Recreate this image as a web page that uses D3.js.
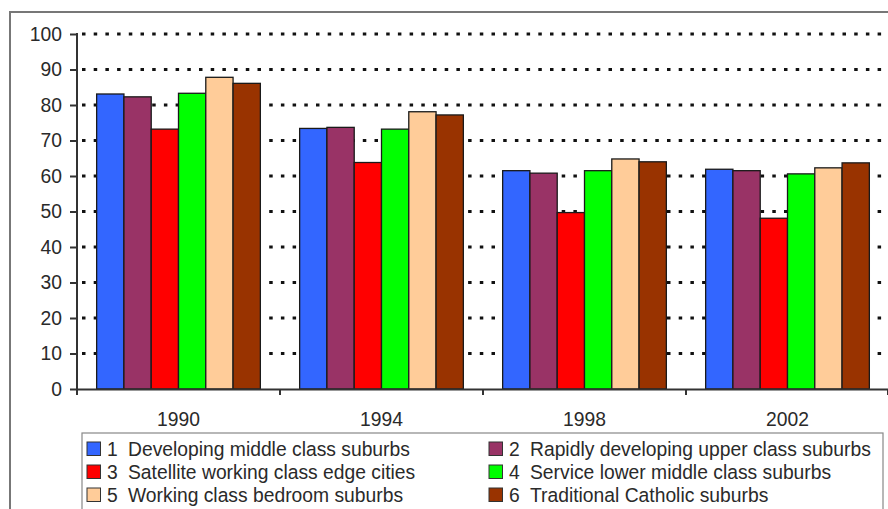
<!DOCTYPE html>
<html>
<head>
<meta charset="utf-8">
<script src="https://cdn.jsdelivr.net/npm/d3@7.9.0/dist/d3.min.js"></script>
<style>
  body { margin: 0; background: #fff; }
  svg { display: block; }
  svg text { font-family: "Liberation Sans", Arial, sans-serif; }
</style>
</head>
<body>
<svg width="888" height="509"></svg>
<script>
const years = ['1990', '1994', '1998', '2002'];
const seriesNames = [
  'Developing middle class suburbs',
  'Rapidly developing upper class suburbs',
  'Satellite working class edge cities',
  'Service lower middle class suburbs',
  'Working class bedroom suburbs',
  'Traditional Catholic suburbs'
];
const colors = ['#3366ff', '#993366', '#ff0000', '#00ff00', '#ffcc99', '#993300'];
// values per series, one per year
const s1 = [83.1, 73.4, 61.5, 61.9];
const s2 = [82.3, 73.7, 60.8, 61.5];
const s3 = [73.2, 63.8, 49.7, 48.1];
const s4 = [83.3, 73.2, 61.5, 60.6];
const s5 = [87.8, 78.1, 64.8, 62.3];
const s6 = [86.1, 77.2, 64.0, 63.7];
const yTicks = [0, 10, 20, 30, 40, 50, 60, 70, 80, 90, 100];

const seriesValues = [s1, s2, s3, s4, s5, s6];
const svg = d3.select('svg');
const fs = 19.3;
const ink = '#2a2a2a';

// outer frame (runs off the right and bottom)
svg.append('rect')
  .attr('x', 10).attr('y', 12)
  .attr('width', 900).attr('height', 520)
  .attr('fill', '#fff')
  .attr('stroke', '#777').attr('stroke-width', 2);

const y = d3.scaleLinear().domain([0, 100]).range([389, 34]);
const x0 = d3.scaleBand().domain(years).range([77, 889]);
const x1 = d3.scaleBand().domain(d3.range(6)).range([0, x0.bandwidth()]).paddingOuter(0.72);

// dotted grid
svg.append('g').selectAll('line')
  .data(yTicks.filter(d => d > 0))
  .join('line')
  .attr('x1', 82).attr('x2', 889)
  .attr('y1', d => y(d)).attr('y2', d => y(d))
  .attr('stroke', '#111')
  .attr('stroke-width', 3)
  .attr('stroke-dasharray', '3.5 8.2');

// bars
const groups = svg.append('g').selectAll('g')
  .data(years)
  .join('g')
  .attr('transform', d => `translate(${x0(d)},0)`);

groups.selectAll('rect')
  .data((yr, i) => seriesValues.map((vals, s) => ({ s, v: vals[i] })))
  .join('rect')
  .attr('x', d => x1(d.s))
  .attr('y', d => y(d.v))
  .attr('width', x1.bandwidth())
  .attr('height', d => y(0) - y(d.v))
  .attr('fill', d => colors[d.s])
  .attr('stroke', '#1a1a1a')
  .attr('stroke-width', 1.3);

// y axis
const yAxis = svg.append('g')
  .attr('transform', 'translate(77,0)')
  .call(d3.axisLeft(y).tickValues(yTicks).tickSize(7).tickPadding(8));
yAxis.select('.domain').remove();
yAxis.selectAll('line').attr('stroke', '#333').attr('stroke-width', 2);
yAxis.selectAll('text').attr('font-size', fs).attr('fill', ink)
  .attr('font-family', '"Liberation Sans", Arial, sans-serif');
svg.append('line')
  .attr('x1', 77).attr('x2', 77).attr('y1', y(100) - 1).attr('y2', y(0) + 6)
  .attr('stroke', '#333').attr('stroke-width', 2);

// x axis
const xAxis = svg.append('g')
  .attr('transform', `translate(0,${y(0)})`)
  .call(d3.axisBottom(x0).tickSize(0).tickPadding(23));
xAxis.select('.domain').attr('stroke', '#333').attr('stroke-width', 2);
xAxis.selectAll('text').attr('font-size', fs).attr('fill', ink)
  .attr('font-family', '"Liberation Sans", Arial, sans-serif');
svg.append('g').selectAll('line')
  .data(years.slice(1).map(d => x0(d)).concat([x0.range()[1] - 1]))
  .join('line')
  .attr('x1', d => d).attr('x2', d => d)
  .attr('y1', y(0)).attr('y2', y(0) + 6)
  .attr('stroke', '#333').attr('stroke-width', 2);

// legend
const legend = svg.append('g');
legend.append('rect')
  .attr('x', 82).attr('y', 433)
  .attr('width', 801).attr('height', 100)
  .attr('fill', '#fff')
  .attr('stroke', '#888').attr('stroke-width', 1.2);

const items = legend.selectAll('g.item')
  .data(seriesNames.map((name, i) => ({ name, i })))
  .join('g')
  .attr('class', 'item')
  .attr('transform', d => `translate(${d.i % 2 === 0 ? 87 : 489},${442 + Math.floor(d.i / 2) * 23})`);

items.append('rect')
  .attr('width', 13.5).attr('height', 13.5)
  .attr('fill', d => colors[d.i])
  .attr('stroke', '#333').attr('stroke-width', 1);
items.append('text')
  .attr('x', 20).attr('y', 14)
  .attr('font-size', fs).attr('fill', ink)
  .text(d => d.i + 1);
items.append('text')
  .attr('x', 41).attr('y', 14)
  .attr('font-size', fs).attr('fill', ink)
  .text(d => d.name);
</script>
</body>
</html>
